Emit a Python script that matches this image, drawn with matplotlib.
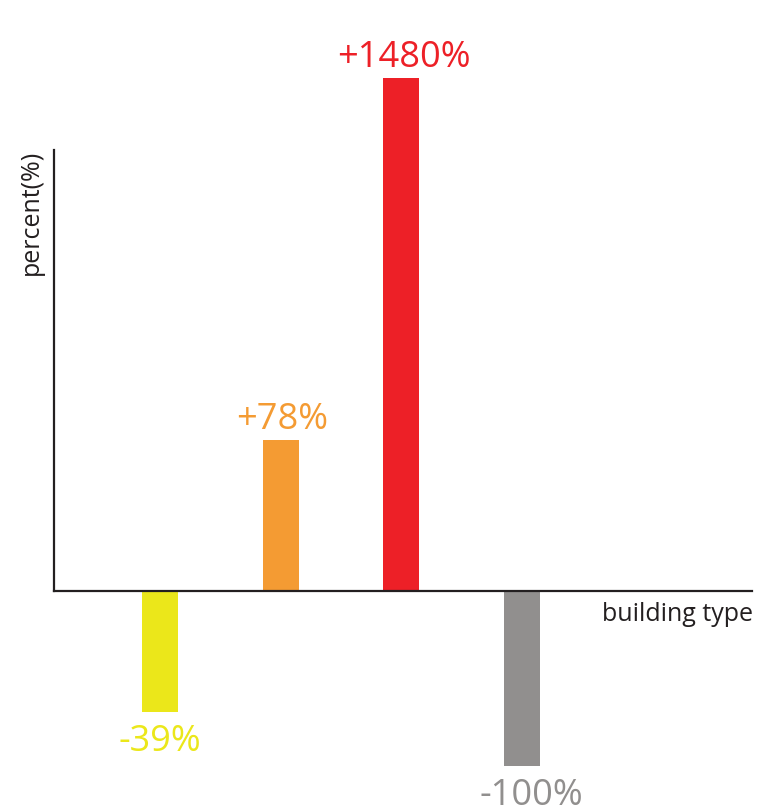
import matplotlib.pyplot as plt

# change in percent per building type (labels) and the drawn bar lengths,
# which in the original are not to scale
changes = ["-39%", "+78%", "+1480%", "-100%"]
bar_heights = [-121, 151, 513, -175]
bar_colors = ["#ebe71a", "#f49b33", "#ed2027", "#918f8e"]
positions = [0, 1, 2, 3]

plt.rcParams['font.family'] = ['Open Sans', 'DejaVu Sans']

fig = plt.figure(figsize=(7.64, 8.10), dpi=100)
ax = fig.add_axes([54 / 764, 19 / 810, 698 / 764, 641 / 810])

bars = ax.bar(positions, bar_heights, width=0.298, color=bar_colors, clip_on=False, zorder=1)

ax.set_xlim(-0.878, 4.906)
ax.set_ylim(-200, 441)

# small nudges so the labels sit like in the original
label_dx = [0, 1, 2, 7]

for rect, txt, col, dx in zip(bars, changes, bar_colors, label_dx):
    h = rect.get_height()
    x = rect.get_x() + rect.get_width() / 2
    dy = 8 if h >= 0 else -28
    ax.annotate(txt, (x, h), xytext=(dx, dy), textcoords='offset points',
                ha='center', va='baseline', color=col, fontsize=26,
                annotation_clip=False)

for side in ['top', 'right']:
    ax.spines[side].set_visible(False)
ax.spines['bottom'].set_position(('data', 0))
ax.spines['left'].set_bounds(0, 441)
for side in ['left', 'bottom']:
    ax.spines[side].set_linewidth(1.6)
    ax.spines[side].set_color('#231f20')
    ax.spines[side].set_zorder(3)
ax.set_xticks([])
ax.set_yticks([])

fig.text(753 / 764, 1 - 621 / 810, "building type", ha='right', va='baseline',
         fontsize=18, color='#231f20')
fig.text(31 / 764, 1 - 150 / 810, "percent(%)", rotation=90, ha='center', va='top',
         fontsize=18, color='#231f20')

fig.savefig("out.png", dpi=100)
